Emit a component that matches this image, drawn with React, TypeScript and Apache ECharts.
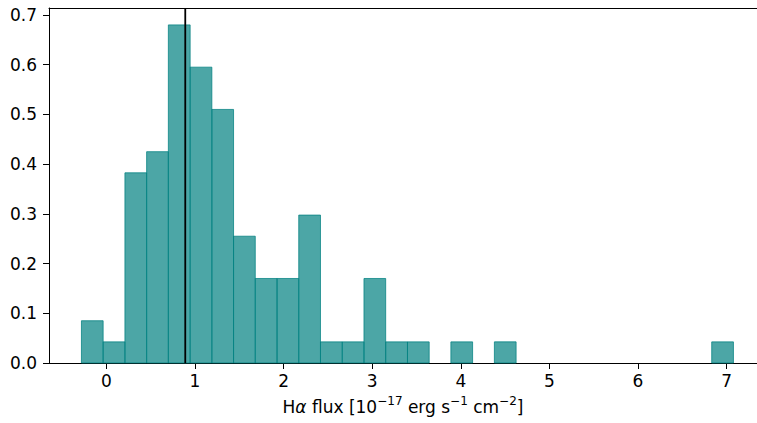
import React, { useEffect, useRef } from "react";
import * as echarts from "echarts";

const binEdges = [
  -0.282, -0.037, 0.209, 0.454, 0.699, 0.945, 1.19, 1.435, 1.68, 1.926, 2.171,
  2.416, 2.662, 2.907, 3.152, 3.398, 3.643, 3.888, 4.133, 4.379, 4.624, 4.869,
  5.115, 5.36, 5.605, 5.851, 6.096, 6.341, 6.586, 6.832, 7.077,
];
const density = [
  0.085, 0.0425, 0.3825, 0.425, 0.68, 0.595, 0.51, 0.255, 0.17, 0.17, 0.2975,
  0.0425, 0.0425, 0.17, 0.0425, 0.0425, 0, 0.0425, 0, 0.0425, 0, 0, 0, 0, 0, 0,
  0, 0, 0, 0.0425,
];
const medianValue = 0.89;
const xTicks = [0, 1, 2, 3, 4, 5, 6, 7];
const yTicks = [0, 0.1, 0.2, 0.3, 0.4, 0.5, 0.6, 0.7];
const xRange = [-0.648, 7.343];
const yRange = [0, 0.714];

export default function App() {
  const ref = useRef<HTMLDivElement>(null);
  useEffect(() => {
    if (!ref.current) return;
    const chart = echarts.init(ref.current, undefined, { renderer: "svg" });
    const histData = density.map((d, i) => [binEdges[i], binEdges[i + 1], d]);
    const font = "DejaVu Sans";
    const fs = 17;
    chart.setOption({
      animation: false,
      grid: {
        left: 49,
        right: 0,
        top: 8,
        bottom: 60,
        show: false,
      },
      xAxis: [
        {
          type: "value",
          min: xRange[0],
          max: xRange[1],
          splitLine: { show: false },
          axisLine: { show: true, onZero: false, lineStyle: { color: "#000", width: 1 } },
          axisTick: {
            show: true,
            customValues: xTicks,
            length: 6,
            lineStyle: { color: "#000" },
          },
          axisLabel: {
            customValues: xTicks,
            color: "#000",
            fontFamily: font,
            fontSize: fs,
            margin: 9,
            formatter: (v: number) => String(Math.round(v)),
          },
          name: "{n|H}{a|α}{n| flux [10}{s|−17}{n| erg s}{s|−1}{n| cm}{s|−2}{n|]}",
          nameLocation: "middle",
          nameGap: 32,
          nameTextStyle: {
            rich: {
              n: { fontFamily: font, fontSize: fs, color: "#000", lineHeight: 24 },
              a: { fontFamily: font, fontSize: fs, color: "#000", fontStyle: "italic", lineHeight: 24 },
              s: { fontFamily: font, fontSize: 12, color: "#000", verticalAlign: "top", lineHeight: 24 },
            },
          },
        },
        {
          type: "value",
          position: "top",
          min: xRange[0],
          max: xRange[1],
          splitLine: { show: false },
          axisLine: { show: true, onZero: false, lineStyle: { color: "#000", width: 1 } },
          axisTick: { show: false },
          axisLabel: { show: false },
        },
      ],
      yAxis: {
        type: "value",
        min: yRange[0],
        max: yRange[1],
        splitLine: { show: false },
        axisLine: { show: true, onZero: false, lineStyle: { color: "#000", width: 1 } },
        axisTick: {
          show: true,
          customValues: yTicks,
          length: 6,
          lineStyle: { color: "#000" },
        },
        axisLabel: {
          customValues: yTicks,
          color: "#000",
          fontFamily: font,
          fontSize: fs,
          margin: 12,
          formatter: (v: number) => v.toFixed(1),
        },
      },
      series: [
        {
          type: "custom",
          data: histData,
          xAxisIndex: 0,
          renderItem: (params: any, api: any) => {
            const x0 = api.value(0);
            const x1 = api.value(1);
            const y = api.value(2);
            if (y <= 0) return null;
            const p0 = api.coord([x0, y]);
            const p1 = api.coord([x1, 0]);
            return {
              type: "rect",
              shape: { x: p0[0], y: p0[1], width: p1[0] - p0[0], height: p1[1] - p0[1] },
              style: {
                fill: "rgba(0,128,128,0.7)",
                stroke: "rgba(0,128,128,0.75)",
                lineWidth: 1,
              },
            };
          },
          encode: { x: [0, 1], y: 2 },
          z: 2,
        },
        {
          type: "line",
          xAxisIndex: 0,
          data: [
            [medianValue, yRange[0]],
            [medianValue, yRange[1]],
          ],
          showSymbol: false,
          symbol: "none",
          lineStyle: { color: "#000", width: 1.8 },
          z: 3,
        },
      ],
    });
    return () => chart.dispose();
  }, []);
  return (
    <div
      ref={ref}
      style={{ position: "absolute", left: 0, top: 0, width: 757, height: 423 }}
    />
  );
}
